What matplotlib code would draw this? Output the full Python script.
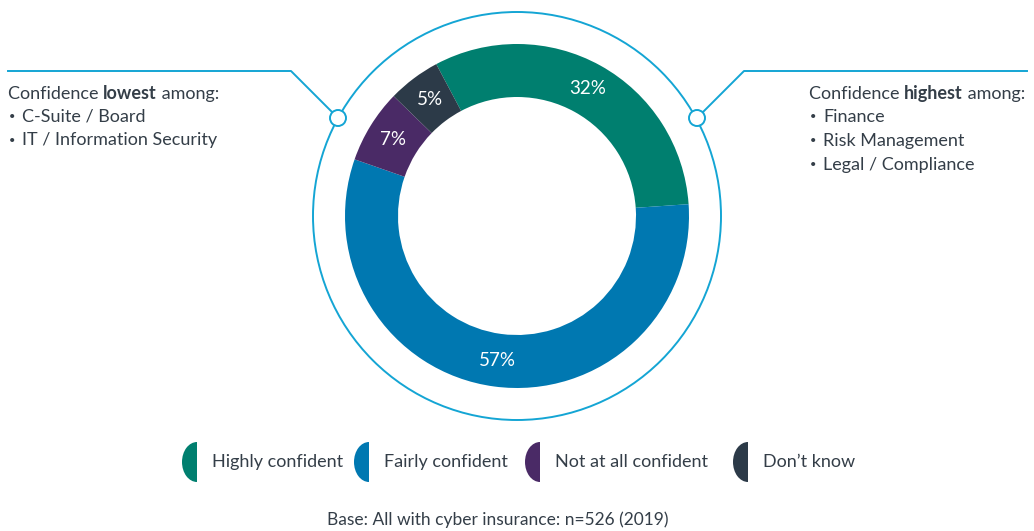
import numpy as np
import matplotlib.pyplot as plt
from matplotlib.patches import Circle, PathPatch
from matplotlib.path import Path
from matplotlib.transforms import Affine2D

categories = ['Highly confident', 'Fairly confident', 'Not at all confident', 'Don\u2019t know']
values = [32, 57, 7, 5]
colors = ['#007f6f', '#0078b1', '#4a2a66', '#2c3a48']
lowest = ['C-Suite / Board', 'IT / Information Security']
highest = ['Finance', 'Risk Management', 'Legal / Compliance']
base_note = 'Base: All with cyber insurance: n=526 (2019)'

plt.rcParams['font.family'] = ['Lato', 'DejaVu Sans']
txt_col = '#343e48'
line_col = '#14a5d4'

W, H = 1034, 531
fig = plt.figure(figsize=(W / 100, H / 100), dpi=100)
ax = fig.add_axes([0, 0, 1, 1])

cx, cy, r = 517, H - 216, 172
wedges, _, autotexts = ax.pie(values, colors=colors, radius=r, center=(cx, cy),
                              startangle=118, counterclock=False,
                              autopct=lambda p: f'{p * 1.01:.0f}%', pctdistance=0.845,
                              wedgeprops=dict(width=53, linewidth=0),
                              textprops=dict(color='white', fontsize=13.5))
ax.set_xlim(0, W)
ax.set_ylim(0, H)
ax.set_aspect('equal')
ax.axis('off')

# outer ring and connectors
ax.add_patch(Circle((cx, cy), 204, fill=False, ec=line_col, lw=1.4))
ax.plot([8, 291, 338], [H - 71, H - 71, H - 118], color=line_col, lw=1.4)
ax.plot([1027, 744, 697], [H - 71, H - 71, H - 118], color=line_col, lw=1.4)
for x in (338, 697):
    ax.add_patch(Circle((x, H - 118), 8, fc='white', ec=line_col, lw=1.4, zorder=5))

fs = 13


def mixed(x, y, parts):
    t = ax.text(x, y, parts[0][0], fontsize=fs, color=txt_col, fontweight=parts[0][1],
                va='bottom', ha='left')
    for s, w in parts[1:]:
        t = ax.annotate(s, xy=(1, 0), xycoords=t, fontsize=fs, color=txt_col,
                        fontweight=w, va='bottom', ha='left')
    return t


def bullets(x, y0, items):
    for i, s in enumerate(items):
        y = y0 - 24 * i
        ax.text(x + 1, y, '\u2022', fontsize=8, color=txt_col, va='center', ha='left')
        ax.text(x + 14, y, s, fontsize=fs, color=txt_col, va='center', ha='left')


mixed(8, H - 102, [('Confidence ', 'normal'), ('lowest', 'bold'), (' among:', 'normal')])
bullets(8, H - 116, lowest)

mixed(809, H - 102, [('Confidence ', 'normal'), ('highest', 'bold'), (' among:', 'normal')])
bullets(809, H - 117, highest)

# legend with half-disc markers
leg_x = [182, 354, 525, 733]
half = Path.wedge(90, 270)
for x, c, lab in zip(leg_x, colors, categories):
    tr = Affine2D().scale(15, 20).translate(x + 15, H - 462)
    ax.add_patch(PathPatch(tr.transform_path(half), fc=c, ec='none'))
    ax.text(x + 30, H - 462, lab, fontsize=fs, color=txt_col, va='center', ha='left')

ax.text(498, H - 520, base_note, fontsize=12.5, color=txt_col, va='center', ha='center')

fig.savefig('out.png', dpi=100)
